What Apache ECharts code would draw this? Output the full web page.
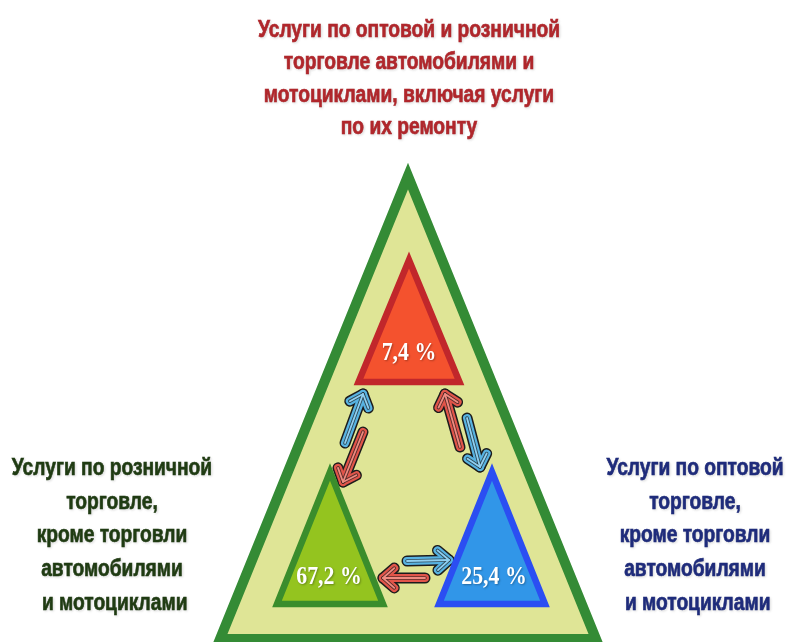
<!DOCTYPE html>
<html>
<head>
    <meta charset="utf-8" />
    <title></title>
    <script src="https://cdn.jsdelivr.net/npm/echarts@6/dist/echarts.min.js"></script>
    <style>html, body { margin: 0; padding: 0; background: #fff; }</style>
</head>
<body>
    <div id="main" style="width:788px;height:642px;"></div>
    <script>
        // данные: виды услуг и их доли, %
        var sectors = [
            'Услуги по оптовой и розничной\nторговле автомобилями и\nмотоциклами, включая услуги\nпо их ремонту',
            'Услуги по розничной\nторговле,\nкроме торговли\nавтомобилями\n и мотоциклами',
            'Услуги по оптовой\nторговле,\nкроме торговли\nавтомобилями\n и мотоциклами'
        ];
        var shares = [7.4, 67.2, 25.4];

        // раскладка схемы (в пикселях скрытых осей)
        var frame = { apex: [408, 176], left: [220, 639], right: [596, 639] };
        var slots = [
            { cx: 409, apex: 260, base: 382, half: 50.5, valueAt: [409, 353], textAt: [409, 79], color: '#f4522e', border: '#c1272b', ink: '#b0262b' },
            { cx: 330, apex: 472, base: 604, half: 53, valueAt: [329, 577], textAt: [112, 536], color: '#94c41f', border: '#3a8d2c', ink: '#1f3b12' },
            { cx: 492, apex: 472, base: 604, half: 53, valueAt: [494, 577], textAt: [695, 536], color: '#3196e8', border: '#2b4ef2', ink: '#1e2b7b' }
        ];
        // стрелки: [хвост, острие, цвет]
        var arrows = [
            [[345, 443], [363, 394], 'blue'],
            [[363, 432], [343, 482], 'red'],
            [[460, 447], [445, 394], 'red'],
            [[467, 418], [480, 467], 'blue'],
            [[407, 561], [449, 560], 'blue'],
            [[425, 578], [383, 578], 'red']
        ];
        var arrowColors = {
            blue: { main: '#58b3e2', core: '#8fd0f2' },
            red: { main: '#e2554a', core: '#f08a80' }
        };

        var sansFont = '"Liberation Sans", Arial, sans-serif';

        function fmt(v) {
            return String(v).replace('.', ',') + ' %';
        }

        var chart = echarts.init(document.getElementById('main'));

        chart.setOption({
            animation: false,
            grid: { left: 0, right: 0, top: 0, bottom: 0 },
            xAxis: { type: 'value', min: 0, max: 788, show: false },
            yAxis: { type: 'value', min: 0, max: 642, inverse: true, show: false },
            series: [
                {
                    // большой треугольник
                    type: 'custom',
                    z: 1,
                    clip: false,
                    data: [[0]],
                    renderItem: function (params, api) {
                        return {
                            type: 'polygon',
                            shape: { points: [api.coord(frame.apex), api.coord(frame.left), api.coord(frame.right)] },
                            style: { fill: '#dfe596', stroke: '#348b35', lineWidth: 10, lineJoin: 'miter' }
                        };
                    }
                },
                {
                    // стрелки
                    type: 'custom',
                    z: 2,
                    clip: false,
                    data: arrows.map(function (a, i) { return [i]; }),
                    renderItem: function (params, api) {
                        var a = arrows[params.dataIndex];
                        var p0 = api.coord(a[0]), p1 = api.coord(a[1]);
                        var c = arrowColors[a[2]];
                        var dx = p1[0] - p0[0], dy = p1[1] - p0[1];
                        var len = Math.sqrt(dx * dx + dy * dy);
                        var bx = -dx / len, by = -dy / len;
                        var head = 15, ang = 0.72;
                        var cs = Math.cos(ang), sn = Math.sin(ang);
                        var armA = [p1[0] + head * (bx * cs - by * sn), p1[1] + head * (bx * sn + by * cs)];
                        var armB = [p1[0] + head * (bx * cs + by * sn), p1[1] + head * (-bx * sn + by * cs)];
                        var layers = [
                            { w: 11, c: '#1c1c1c' },
                            { w: 8, c: c.main },
                            { w: 3.6, c: 'rgba(30,30,30,0.7)' },
                            { w: 1.8, c: c.core }
                        ];
                        var children = [];
                        layers.forEach(function (l) {
                            children.push({
                                type: 'polyline',
                                shape: { points: [p0, p1] },
                                style: { fill: null, stroke: l.c, lineWidth: l.w, lineCap: 'round', lineJoin: 'round' }
                            });
                            children.push({
                                type: 'polyline',
                                shape: { points: [armA, p1, armB] },
                                style: { fill: null, stroke: l.c, lineWidth: l.w, lineCap: 'round', lineJoin: 'round' }
                            });
                        });
                        return { type: 'group', children: children };
                    }
                },
                {
                    // треугольники видов услуг, доли и подписи
                    type: 'custom',
                    z: 3,
                    clip: false,
                    data: shares.map(function (v, i) { return [i, v]; }),
                    renderItem: function (params, api) {
                        var i = api.value(0);
                        var s = slots[i];
                        var pts = [
                            api.coord([s.cx, s.apex]),
                            api.coord([s.cx - s.half, s.base]),
                            api.coord([s.cx + s.half, s.base])
                        ];
                        var vp = api.coord(s.valueAt);
                        var tp = api.coord(s.textAt);
                        return {
                            type: 'group',
                            children: [
                                {
                                    type: 'polygon',
                                    shape: { points: pts },
                                    style: { fill: s.color, stroke: s.border, lineWidth: 6.5, lineJoin: 'miter' }
                                },
                                {
                                    type: 'text',
                                    x: vp[0], y: vp[1],
                                    scaleX: 0.84,
                                    style: {
                                        text: fmt(api.value(1)),
                                        fill: '#ffffff',
                                        fontFamily: '"Liberation Serif", "DejaVu Serif", serif',
                                        fontWeight: 'bold',
                                        fontSize: 26,
                                        align: 'center',
                                        verticalAlign: 'middle',
                                        textShadowColor: 'rgba(0,0,0,0.3)',
                                        textShadowBlur: 2,
                                        textShadowOffsetX: 1,
                                        textShadowOffsetY: 1
                                    }
                                },
                                {
                                    type: 'text',
                                    x: tp[0], y: tp[1],
                                    scaleX: 0.835,
                                    style: {
                                        text: sectors[i],
                                        fill: s.ink,
                                        stroke: s.ink,
                                        lineWidth: 0.6,
                                        fontFamily: sansFont,
                                        fontWeight: 'bold',
                                        fontSize: 23,
                                        lineHeight: i === 0 ? 32.5 : 33.7,
                                        align: 'center',
                                        verticalAlign: 'middle',
                                        textShadowColor: 'rgba(0,0,0,0.15)',
                                        textShadowBlur: 3,
                                        textShadowOffsetX: 1,
                                        textShadowOffsetY: 1
                                    }
                                }
                            ]
                        };
                    }
                }
            ]
        });
    </script>
</body>
</html>
